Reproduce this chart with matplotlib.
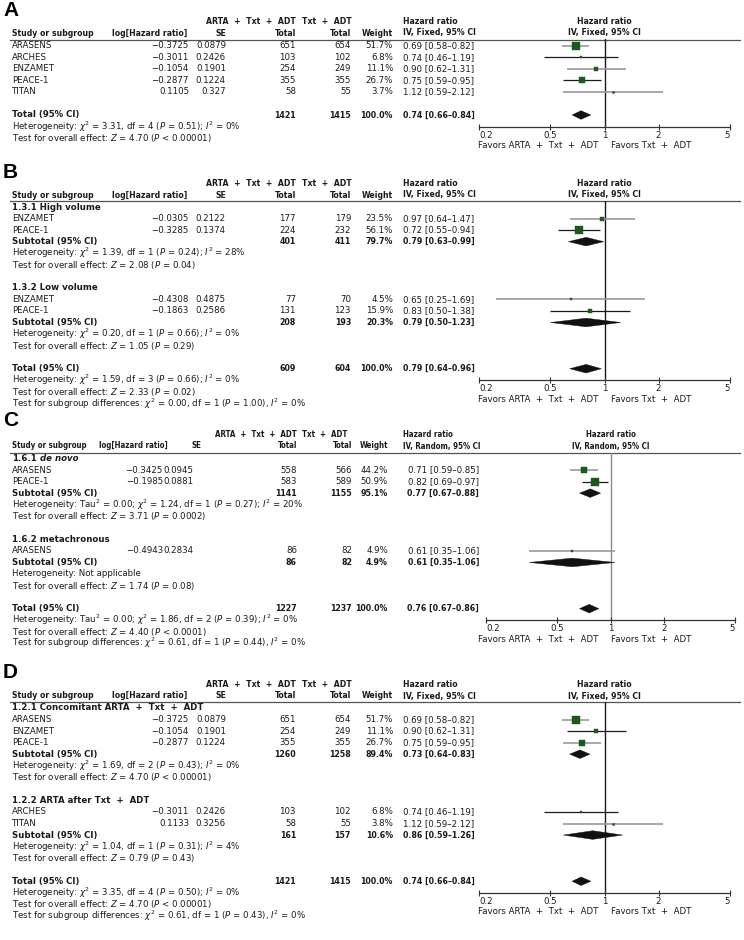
import os
import matplotlib
matplotlib.use("Agg")
import numpy as np
import matplotlib.pyplot as plt
from matplotlib import font_manager as fm
from matplotlib.patches import Polygon
from matplotlib.ticker import NullLocator
from matplotlib.transforms import blended_transform_factory

plt.rcParams["font.family"] = ["DejaVu Sans"]
plt.rcParams["mathtext.fontset"] = "dejavusans"

# ================= DATA =================
COL_TRT = "ARTA  +  Txt  +  ADT"
COL_CTL = "Txt  +  ADT"
FAVORS_LEFT = "Favors ARTA  +  Txt  +  ADT"
FAVORS_RIGHT = "Favors Txt  +  ADT"
AXIS_TICKS = [0.2, 0.5, 1, 2, 5]
AXIS_TICKLABELS = ["0.2", "0.5", "1", "2", "5"]

# Panel A
A_study = ["ARASENS", "ARCHES", "ENZAMET", "PEACE-1", "TITAN"]
A_loghr = [-0.3725, -0.3011, -0.1054, -0.2877, 0.1105]
A_se = [0.0879, 0.2426, 0.1901, 0.1224, 0.327]
A_n_trt = [651, 103, 254, 355, 58]
A_n_ctl = [654, 102, 249, 355, 55]
A_weight = [51.7, 6.8, 11.1, 26.7, 3.7]
A_hr = [0.69, 0.74, 0.90, 0.75, 1.12]
A_lo = [0.58, 0.46, 0.62, 0.59, 0.59]
A_hi = [0.82, 1.19, 1.31, 0.95, 2.12]
A_total = [1421, 1415, 100.0, 0.74, 0.66, 0.84]
A_total_stats = [r"Heterogeneity: $\chi^2$ = 3.31, df = 4 ($P$ = 0.51); $I^2$ = 0%",
                 r"Test for overall effect: $Z$ = 4.70 ($P$ < 0.00001)"]

# Panel B
B_groups = [("1.3.1 High volume", ""), ("1.3.2 Low volume", "")]
B_group_of = [0, 0, 1, 1]
B_study = ["ENZAMET", "PEACE-1", "ENZAMET", "PEACE-1"]
B_loghr = [-0.0305, -0.3285, -0.4308, -0.1863]
B_se = [0.2122, 0.1374, 0.4875, 0.2586]
B_n_trt = [177, 224, 77, 131]
B_n_ctl = [179, 232, 70, 123]
B_weight = [23.5, 56.1, 4.5, 15.9]
B_hr = [0.97, 0.72, 0.65, 0.83]
B_lo = [0.64, 0.55, 0.25, 0.50]
B_hi = [1.47, 0.94, 1.69, 1.38]
B_subtotals = [[401, 411, 79.7, 0.79, 0.63, 0.99],
               [208, 193, 20.3, 0.79, 0.50, 1.23]]
B_sub_stats = [[r"Heterogeneity: $\chi^2$ = 1.39, df = 1 ($P$ = 0.24); $I^2$ = 28%",
                r"Test for overall effect: $Z$ = 2.08 ($P$ = 0.04)"],
               [r"Heterogeneity: $\chi^2$ = 0.20, df = 1 ($P$ = 0.66); $I^2$ = 0%",
                r"Test for overall effect: $Z$ = 1.05 ($P$ = 0.29)"]]
B_total = [609, 604, 100.0, 0.79, 0.64, 0.96]
B_total_stats = [r"Heterogeneity: $\chi^2$ = 1.59, df = 3 ($P$ = 0.66); $I^2$ = 0%",
                 r"Test for overall effect: $Z$ = 2.33 ($P$ = 0.02)",
                 r"Test for subgroup differences: $\chi^2$ = 0.00, df = 1 ($P$ = 1.00), $I^2$ = 0%"]

# Panel C
C_groups = [("1.6.1", "de novo"), ("1.6.2 metachronous", "")]
C_group_of = [0, 0, 1]
C_study = ["ARASENS", "PEACE-1", "ARASENS"]
C_loghr = [-0.3425, -0.1985, -0.4943]
C_se = [0.0945, 0.0881, 0.2834]
C_n_trt = [558, 583, 86]
C_n_ctl = [566, 589, 82]
C_weight = [44.2, 50.9, 4.9]
C_hr = [0.71, 0.82, 0.61]
C_lo = [0.59, 0.69, 0.35]
C_hi = [0.85, 0.97, 1.06]
C_subtotals = [[1141, 1155, 95.1, 0.77, 0.67, 0.88],
               [86, 82, 4.9, 0.61, 0.35, 1.06]]
C_sub_stats = [[r"Heterogeneity: Tau$^2$ = 0.00; $\chi^2$ = 1.24, df = 1 ($P$ = 0.27); $I^2$ = 20%",
                r"Test for overall effect: $Z$ = 3.71 ($P$ = 0.0002)"],
               ["Heterogeneity: Not applicable",
                r"Test for overall effect: $Z$ = 1.74 ($P$ = 0.08)"]]
C_total = [1227, 1237, 100.0, 0.76, 0.67, 0.86]
C_total_stats = [r"Heterogeneity: Tau$^2$ = 0.00; $\chi^2$ = 1.86, df = 2 ($P$ = 0.39); $I^2$ = 0%",
                 r"Test for overall effect: $Z$ = 4.40 ($P$ < 0.0001)",
                 r"Test for subgroup differences: $\chi^2$ = 0.61, df = 1 ($P$ = 0.44), $I^2$ = 0%"]

# Panel D
D_groups = [("1.2.1 Concomitant ARTA  +  Txt  +  ADT", ""), ("1.2.2 ARTA after Txt  +  ADT", "")]
D_group_of = [0, 0, 0, 1, 1]
D_study = ["ARASENS", "ENZAMET", "PEACE-1", "ARCHES", "TITAN"]
D_loghr = [-0.3725, -0.1054, -0.2877, -0.3011, 0.1133]
D_se = [0.0879, 0.1901, 0.1224, 0.2426, 0.3256]
D_n_trt = [651, 254, 355, 103, 58]
D_n_ctl = [654, 249, 355, 102, 55]
D_weight = [51.7, 11.1, 26.7, 6.8, 3.8]
D_hr = [0.69, 0.90, 0.75, 0.74, 1.12]
D_lo = [0.58, 0.62, 0.59, 0.46, 0.59]
D_hi = [0.82, 1.31, 0.95, 1.19, 2.12]
D_subtotals = [[1260, 1258, 89.4, 0.73, 0.64, 0.83],
               [161, 157, 10.6, 0.86, 0.59, 1.26]]
D_sub_stats = [[r"Heterogeneity: $\chi^2$ = 1.69, df = 2 ($P$ = 0.43); $I^2$ = 0%",
                r"Test for overall effect: $Z$ = 4.70 ($P$ < 0.00001)"],
               [r"Heterogeneity: $\chi^2$ = 1.04, df = 1 ($P$ = 0.31); $I^2$ = 4%",
                r"Test for overall effect: $Z$ = 0.79 ($P$ = 0.43)"]]
D_total = [1421, 1415, 100.0, 0.74, 0.66, 0.84]
D_total_stats = [r"Heterogeneity: $\chi^2$ = 3.35, df = 4 ($P$ = 0.50); $I^2$ = 0%",
                 r"Test for overall effect: $Z$ = 4.70 ($P$ < 0.00001)",
                 r"Test for subgroup differences: $\chi^2$ = 0.61, df = 1 ($P$ = 0.43), $I^2$ = 0%"]

# ================= STYLE / LAYOUT =================
W, H = 744, 940
PITCH = 11.55
FS = 6.2
TXT = "#1a1a1a"
GREEN = "#1c5a1c"

# condensed bold font (narrower semi-bold look) if available
HDR_PATH = None
for fam, st in [("DejaVu Sans", "condensed"), ("DejaVu Sans Condensed", "normal")]:
    try:
        p = fm.findfont(fm.FontProperties(family=fam, stretch=st, weight="bold"),
                        fallback_to_default=False)
        b = os.path.basename(p)
        if "ondensed" in b and "Bold" in b:
            HDR_PATH = p
            break
    except Exception:
        pass


def hdr_fp(scale=1.0):
    if HDR_PATH:
        return fm.FontProperties(fname=HDR_PATH, size=FS * scale)
    return fm.FontProperties(family="DejaVu Sans", weight="bold", size=FS * 0.9 * scale)


FIXED = dict(lhr_r=189, lhr_hdr_r=187, se_r=226, se_hdr=("right", 226), t1_r=296, t2_r=351,
             w_r=393, ci=("left", 403), ax_x=(479, 730), method="IV, Fixed, 95% CI",
             vline="#1a1a1a", hdr_scale=1.0)
RANDOM = dict(lhr_r=163, lhr_hdr_r=168, se_r=193, se_hdr=("left", 191), t1_r=297, t2_r=352,
              w_r=388, ci=("right", 479), ax_x=(486, 735), method="IV, Random, 95% CI",
              vline="#8a8a8a", hdr_scale=0.92)

POS = {
    "A": dict(label=10, h1=21, h2=33, rule=39.5, row0=45.7),
    "B": dict(label=172, h1=183.5, h2=195, rule=201, row0=207),
    "C": dict(label=421, h1=434.5, h2=446, rule=452.5, row0=458.5),
    "D": dict(label=672, h1=684.5, h2=696, rule=702, row0=708),
}

fig = plt.figure(figsize=(W / 100, H / 100), dpi=100)
ax_t = fig.add_axes([0, 0, 1, 1])
ax_t.set_xlim(0, W)
ax_t.set_ylim(H, 0)
ax_t.axis("off")


def txt(x, y, s, ha="left", bold=False, italic=False, color=TXT, **kw):
    return ax_t.text(x, y, s, ha=ha, va="center", fontsize=FS,
                     fontweight="bold" if bold else "normal",
                     fontstyle="italic" if italic else "normal", color=color, **kw)


def htxt(x, y, s, ha="left", scale=1.0, **kw):
    return ax_t.text(x, y, s, ha=ha, va="center", fontproperties=hdr_fp(scale), color=TXT, **kw)


def fmt_num(v):
    return ("%g" % v).replace("-", "\u2212")


def fmt_ci(hr, lo, hi):
    return "%.2f [%.2f\u2013%.2f]" % (hr, lo, hi)


def build_rows(n_study, groups, group_of, sub_stats, total_stats):
    rows = []
    if groups is None:
        for i in range(n_study):
            rows.append(("study", i))
        rows.append(("blank", None))
    else:
        for g in range(len(groups)):
            rows.append(("group", g))
            for i in range(n_study):
                if group_of[i] == g:
                    rows.append(("study", i))
            rows.append(("sub", g))
            for s in sub_stats[g]:
                rows.append(("stat", s))
            rows.append(("blank", None))
    rows.append(("total", None))
    for s in total_stats:
        rows.append(("stat", s))
    return rows


def draw_panel(letter, L, study, loghr, se, n1, n2, w, hr, lo, hi, total, total_stats,
               groups=None, group_of=None, subtotals=None, sub_stats=None):
    P = POS[letter]
    ax_t.text(3, P["label"], letter, fontsize=15, fontweight="bold", family="Liberation Sans",
              va="center", ha="left", color="black")
    rows = build_rows(len(study), groups, group_of, sub_stats, total_stats)
    ys = [P["row0"] + k * PITCH for k in range(len(rows))]
    k_tot = [k for k, r in enumerate(rows) if r[0] == "total"][0]
    y_axis = ys[k_tot] + PITCH
    x0, x1 = L["ax_x"]
    ax = fig.add_axes([x0 / W, 1 - y_axis / H, (x1 - x0) / W, (y_axis - P["rule"]) / H])
    ax.set_xscale("log")
    ax.set_xlim(0.2, 5)
    ax.set_ylim(y_axis, P["rule"])
    ax.patch.set_visible(False)
    for s in ("top", "left", "right"):
        ax.spines[s].set_visible(False)
    ax.spines["bottom"].set_color("#333333")
    ax.spines["bottom"].set_linewidth(0.9)
    ax.set_yticks([])
    ax.set_xticks(AXIS_TICKS)
    ax.set_xticklabels(AXIS_TICKLABELS)
    ax.xaxis.set_minor_locator(NullLocator())
    ax.tick_params(axis="x", direction="inout", length=5, width=0.8, color="#333333",
                   labelsize=FS, pad=0.5, labelcolor=TXT)
    labs = ax.get_xticklabels()
    labs[0].set_ha("left")
    labs[-1].set_ha("right")
    ax.axvline(1, color=L["vline"], lw=1.0, zorder=1)
    hdr_tr = blended_transform_factory(ax.transData, ax_t.transData)
    sc = L["hdr_scale"]

    # headers
    htxt(L["t1_r"], P["h1"], COL_TRT, "right", sc)
    htxt(302, P["h1"], COL_CTL, "left", sc)
    htxt(403, P["h1"], "Hazard ratio", "left", sc)
    ax_t.text(1.0, P["h1"], "Hazard ratio", transform=hdr_tr, ha="center", va="center",
              fontproperties=hdr_fp(sc), color=TXT)
    htxt(12, P["h2"], "Study or subgroup", "left", sc)
    htxt(L["lhr_hdr_r"], P["h2"], "log[Hazard ratio]", "right", sc)
    htxt(L["se_hdr"][1], P["h2"], "SE", L["se_hdr"][0], sc)
    htxt(L["t1_r"], P["h2"], "Total", "right", sc)
    htxt(L["t2_r"], P["h2"], "Total", "right", sc)
    htxt(L["w_r"], P["h2"], "Weight", "right", sc)
    htxt(403, P["h2"], L["method"], "left", sc)
    ax_t.text(1.0, P["h2"], L["method"], transform=hdr_tr, ha="center", va="center",
              fontproperties=hdr_fp(sc), color=TXT)
    ax_t.plot([10, 740], [P["rule"], P["rule"]], color="#555555", lw=0.9)

    ci_ha, ci_x = L["ci"]
    n_st = 0
    for (kind, val), y in zip(rows, ys):
        if kind == "study":
            i = val
            txt(12, y, study[i])
            txt(L["lhr_r"], y, fmt_num(loghr[i]), "right")
            txt(L["se_r"], y, fmt_num(se[i]), "right")
            txt(L["t1_r"], y, str(n1[i]), "right")
            txt(L["t2_r"], y, str(n2[i]), "right")
            txt(L["w_r"], y, "%.1f%%" % w[i], "right")
            txt(ci_x, y, fmt_ci(hr[i], lo[i], hi[i]), ci_ha)
            grey = (n_st % 2 == 0)
            ax.plot([lo[i], hi[i]], [y, y], color="#9a9a9a" if grey else "#1a1a1a",
                    lw=1.2 if grey else 0.9, zorder=2, solid_capstyle="butt")
            ax.plot([hr[i]], [y], marker="s", ls="none", ms=np.sqrt(w[i]) * 0.72,
                    color=GREEN, mec=GREEN, mew=0.3, zorder=3)
            n_st += 1
        elif kind in ("sub", "total"):
            vals = subtotals[val] if kind == "sub" else total
            label = "Subtotal (95% CI)" if kind == "sub" else "Total (95% CI)"
            txt(12, y, label, bold=True)
            htxt(L["t1_r"], y, str(vals[0]), "right", 1.02)
            htxt(L["t2_r"], y, str(vals[1]), "right", 1.02)
            htxt(L["w_r"], y, "%.1f%%" % vals[2], "right", 1.02)
            htxt(ci_x, y, fmt_ci(vals[3], vals[4], vals[5]), ci_ha, 1.02)
            hh = 4.3
            ax.add_patch(Polygon([(vals[4], y), (vals[3], y - hh), (vals[5], y), (vals[3], y + hh)],
                                 closed=True, facecolor="#111111", edgecolor="#111111", lw=0.3, zorder=3))
        elif kind == "group":
            pre, ital = groups[val]
            t = txt(12, y, pre, bold=True)
            if ital:
                ax_t.annotate(" " + ital, xy=(1, 0), xycoords=t, ha="left", va="bottom",
                              fontsize=FS, fontweight="bold", fontstyle="italic", color=TXT)
        elif kind == "stat":
            txt(12, y, val)

    # favors labels
    fy = y_axis + 19
    txt(598, fy, FAVORS_LEFT, "right")
    txt(611, fy, FAVORS_RIGHT, "left")


draw_panel("A", FIXED, A_study, A_loghr, A_se, A_n_trt, A_n_ctl, A_weight, A_hr, A_lo, A_hi,
           A_total, A_total_stats)
draw_panel("B", FIXED, B_study, B_loghr, B_se, B_n_trt, B_n_ctl, B_weight, B_hr, B_lo, B_hi,
           B_total, B_total_stats, B_groups, B_group_of, B_subtotals, B_sub_stats)
draw_panel("C", RANDOM, C_study, C_loghr, C_se, C_n_trt, C_n_ctl, C_weight, C_hr, C_lo, C_hi,
           C_total, C_total_stats, C_groups, C_group_of, C_subtotals, C_sub_stats)
draw_panel("D", FIXED, D_study, D_loghr, D_se, D_n_trt, D_n_ctl, D_weight, D_hr, D_lo, D_hi,
           D_total, D_total_stats, D_groups, D_group_of, D_subtotals, D_sub_stats)

fig.savefig("out.png", dpi=100)
